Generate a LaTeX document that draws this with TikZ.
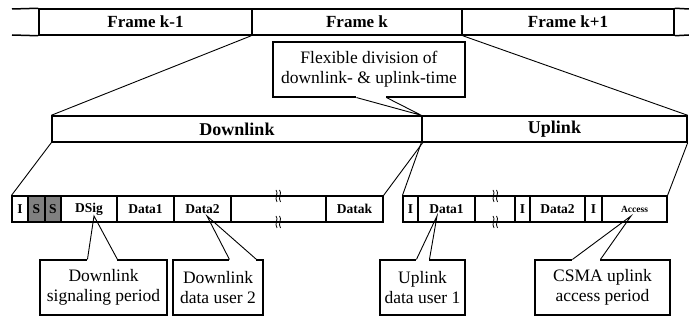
\documentclass[tikz,border=0pt]{standalone}
\usepackage{fontspec}
\setmainfont{Liberation Serif}
\usetikzlibrary{positioning}

\begin{document}
\begin{tikzpicture}[
x=1pt, y=-1pt,
framebox/.style={draw, line width=1.5pt, minimum height=26pt, inner sep=0pt, font=\fontsize{17}{17}\selectfont\bfseries},
linkbox/.style={draw, line width=1.4pt, minimum height=26pt, inner sep=0pt, font=\fontsize{18}{18}\selectfont\bfseries},
slot/.style={draw, line width=1.1pt, minimum width=#1, minimum height=26pt, inner sep=0pt, font=\fontsize{13.5}{13.5}\selectfont\bfseries},
sslot/.style={slot=#1, fill=black!50},
note/.style={draw, fill=white, line width=1.1pt, align=center, inner sep=2pt, font=\fontsize{17.5}{20}\selectfont},
guide/.style={line width=0.9pt},
brk/.style={line width=0.8pt}
]
\useasboundingbox (0,0) rectangle (689,320);

% frame sequence
\node[framebox, minimum width=213pt] (fkm) at (145.5,22) {Frame k-1};
\node[framebox, minimum width=210pt] (fk) at (357,22) {Frame k};
\node[framebox, minimum width=212pt] (fkp) at (568,22) {Frame k+1};
\coordinate (barNW) at (12,9);
\coordinate (barSW) at (12,35);
\coordinate (barNE) at (689,9);
\coordinate (barSE) at (689,35);
\draw[line width=1.5pt] (barNW) -- (fkm.north west);
\draw[line width=1.5pt] (barSW) -- (fkm.south west);
\draw[line width=1.5pt] (fkp.north east) -- (barNE);
\draw[line width=1.5pt] (fkp.south east) -- (barSE);

% downlink / uplink split of frame k
\node[linkbox, minimum width=370pt] (dl) at (237,129) {Downlink};
\node[linkbox, minimum width=265pt] (ul) at (554.5,129) {Uplink};
\draw[guide] (fk.south west) -- (dl.north west);
\draw[guide] (fk.south east) -- (ul.north east);

% downlink slots
\node[slot=16pt] (dlI) at (20,209) {I};
\node[sslot=17pt] (dlS1) at (36.5,209) {S};
\node[sslot=16pt] (dlS2) at (53,209) {S};
\node[slot=56pt] (dlSig) at (89,209) {DSig};
\node[slot=57pt] (dlD1) at (145.5,209) {Data1};
\node[slot=57pt] (dlD2) at (202.5,209) {Data2};
\node[slot=95pt] (dlGap) at (278.5,209) {};
\node[slot=57pt] (dlDk) at (354.5,209) {Datak};

% uplink slots
\node[slot=15pt] (ulI1) at (410.5,209) {I};
\node[slot=57pt] (ulD1) at (446.5,209) {Data1};
\node[slot=40pt] (ulGap) at (495,209) {};
\node[slot=15pt] (ulI2) at (522.5,209) {I};
\node[slot=55pt] (ulD2) at (557.5,209) {Data2};
\node[slot=17pt] (ulI3) at (593.5,209) {I};
\node[slot=65pt, font=\fontsize{9.5}{9.5}\selectfont\bfseries] (ulAcc) at (634.5,209) {Access};

\draw[guide] (dl.south west) -- (dlI.north west);
\draw[guide] (dl.south east) -- (dlDk.north east);
\draw[guide] (ul.south west) -- (ulI1.north west);
\draw[guide] (ul.south east) -- (ulAcc.north east);

% break marks in the open slots
\foreach \bx in {278,495}
  \foreach \by in {196,222} {
    \draw[brk] ({\bx-2},{\by-6}) .. controls ({\bx+1},{\by-3}) and ({\bx-4},{\by+2}) .. ({\bx-1},{\by+6});
    \draw[brk] ({\bx+1.5},{\by-6}) .. controls ({\bx+4.5},{\by-3}) and ({\bx-0.5},{\by+2}) .. ({\bx+2.5},{\by+6});
  }

% callouts
\node[note, minimum width=192pt, minimum height=55pt] (flex) at (369,69.5) {Flexible division of\\downlink- \& uplink-time};
\fill[white] ([xshift=84pt,yshift=-1.2pt]flex.south west) rectangle ([xshift=114pt,yshift=1.2pt]flex.south west);
\draw[guide] ([xshift=84pt]flex.south west) -- (ul.north west) -- ([xshift=114pt]flex.south west);

\coordinate (pSig) at (94,216);
\coordinate (pD2) at (207,216);
\coordinate (pU1) at (437,216);
\coordinate (pAcc) at (631,216);

\node[note, minimum width=127pt, minimum height=55pt] (nSig) at (103.5,287.5) {Downlink\\signaling period};
\fill[white] ([xshift=48pt,yshift=-1.2pt]nSig.north west) rectangle ([xshift=78pt,yshift=1.2pt]nSig.north west);
\draw[guide] ([xshift=48pt]nSig.north west) -- (pSig) -- ([xshift=78pt]nSig.north west);

\node[note, minimum width=90pt, minimum height=55pt] (nD2) at (218,287.5) {Downlink\\data user 2};
\fill[white] ([xshift=57pt,yshift=-1.2pt]nD2.north west) rectangle ([xshift=84pt,yshift=1.2pt]nD2.north west);
\draw[guide] ([xshift=57pt]nD2.north west) -- (pD2) -- ([xshift=84pt]nD2.north west);

\node[note, minimum width=85pt, minimum height=55pt] (nU1) at (422.5,287.5) {Uplink\\data user 1};
\fill[white] ([xshift=37pt,yshift=-1.2pt]nU1.north west) rectangle ([xshift=50pt,yshift=1.2pt]nU1.north west);
\draw[guide] ([xshift=37pt]nU1.north west) -- (pU1) -- ([xshift=50pt]nU1.north west);

\node[note, minimum width=135pt, minimum height=55pt] (nAcc) at (602.5,287.5) {CSMA uplink\\access period};
\fill[white] ([xshift=38pt,yshift=-1.2pt]nAcc.north west) rectangle ([xshift=66pt,yshift=1.2pt]nAcc.north west);
\draw[guide] ([xshift=38pt]nAcc.north west) -- (pAcc) -- ([xshift=66pt]nAcc.north west);
\end{tikzpicture}
\end{document}
